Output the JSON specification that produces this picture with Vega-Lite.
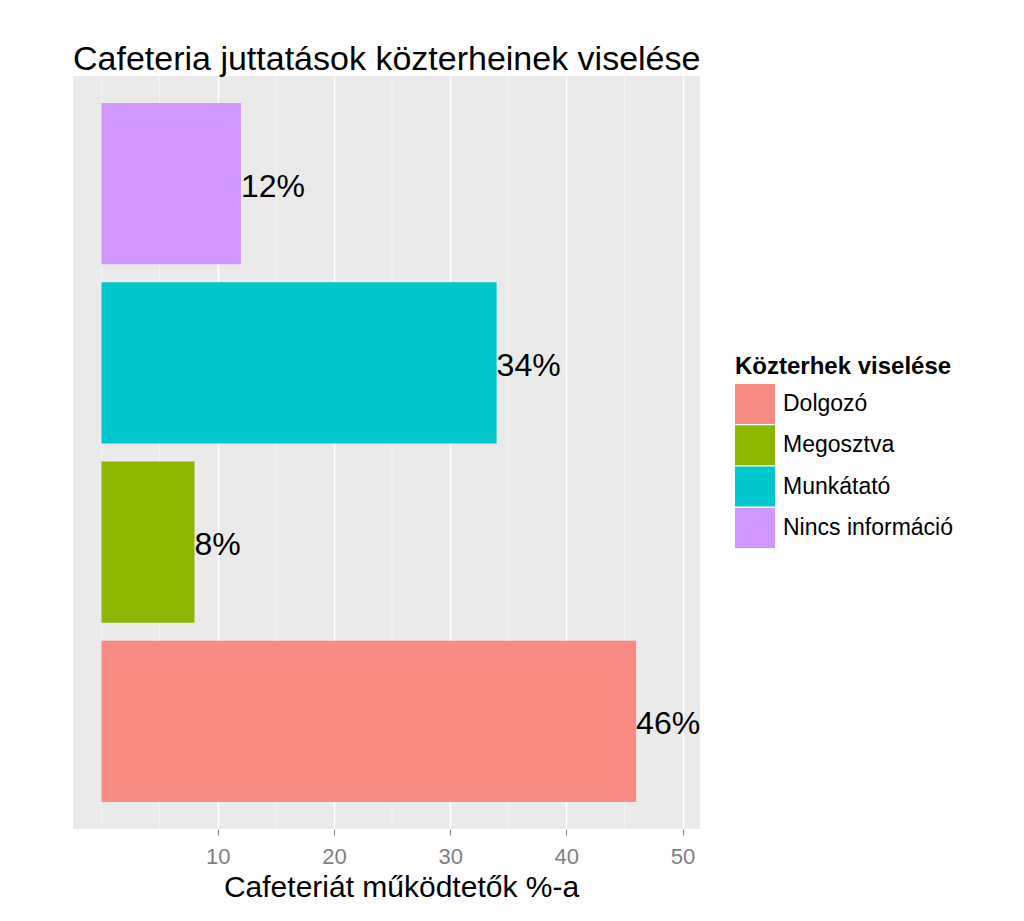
{
  "$schema": "https://vega.github.io/schema/vega-lite/v6.json",
  "width": 627,
  "height": 753,
  "autosize": {"type": "none"},
  "padding": {"left": 73, "top": 76, "right": 324, "bottom": 92},
  "background": "white",
  "title": {
    "text": "Cafeteria juttatások közterheinek viselése",
    "anchor": "start",
    "frame": "group",
    "font": "Liberation Sans",
    "fontSize": 34,
    "fontWeight": "normal",
    "color": "black",
    "offset": -1
  },
  "config": {
    "view": {"fill": "#EAEAEA", "stroke": null},
    "font": "Liberation Sans"
  },
  "datasets": {
    "bars": [
      {"cat": "Dolgozó", "value": 46, "label": "46%"},
      {"cat": "Megosztva", "value": 8, "label": "\u00a08%"},
      {"cat": "Munkátató", "value": 34, "label": "34%"},
      {"cat": "Nincs információ", "value": 12, "label": "12%"}
    ],
    "minor": [
      {"v": 0}, {"v": 5}, {"v": 15}, {"v": 25}, {"v": 35}, {"v": 45}
    ]
  },
  "resolve": {"axis": {"x": "shared"}},
  "layer": [
    {
      "data": {"name": "minor"},
      "mark": {"type": "rule", "color": "#F5F5F5", "strokeWidth": 0.8},
      "encoding": {
        "x": {"field": "v", "type": "quantitative", "scale": {"domain": [-2.45, 51.5], "nice": false, "zero": false}}
      }
    },
    {
      "data": {"name": "bars"},
      "mark": {"type": "bar"},
      "encoding": {
        "y": {
          "field": "cat", "type": "nominal",
          "sort": ["Nincs információ", "Munkátató", "Megosztva", "Dolgozó"],
          "scale": {"paddingInner": 0.1, "paddingOuter": 0.15},
          "axis": null
        },
        "x": {
          "field": "value", "type": "quantitative",
          "scale": {"domain": [-2.45, 51.5], "nice": false, "zero": false},
          "axis": {
            "values": [10, 20, 30, 40, 50],
            "title": "Cafeteriát működtetők %-a",
            "titleFontSize": 30,
            "titleFontWeight": "normal",
            "titleColor": "black",
            "titlePadding": 5,
            "titleX": 328,
            "labelFontSize": 22,
            "labelColor": "#7F7F7F",
            "labelPadding": 11,
            "tickColor": "#7F7F7F",
            "tickSize": 6,
            "domain": false,
            "grid": true,
            "gridColor": "white",
            "gridWidth": 1.5
          }
        },
        "color": {
          "field": "cat", "type": "nominal",
          "scale": {
            "domain": ["Dolgozó", "Megosztva", "Munkátató", "Nincs információ"],
            "range": ["#F98B82", "#8DB600", "#00C6CD", "#D195FF"]
          },
          "legend": {
            "title": "Közterhek viselése",
            "orient": "none",
            "legendX": 662,
            "legendY": 279,
            "titleFontSize": 24,
            "titleFontWeight": "bold",
            "titleColor": "black",
            "titleLimit": 400,
            "titlePadding": 5,
            "labelFontSize": 23,
            "labelColor": "black",
            "labelLimit": 400,
            "labelOffset": 8,
            "symbolType": "square",
            "symbolSize": 1600,
            "symbolStrokeWidth": 0,
            "symbolOpacity": 1,
            "rowPadding": 1.3
          }
        }
      }
    },
    {
      "data": {"name": "bars"},
      "mark": {"type": "text", "align": "left", "baseline": "middle", "fontSize": 32, "color": "black", "clip": true, "dy": 3},
      "encoding": {
        "y": {"field": "cat", "type": "nominal", "sort": ["Nincs információ", "Munkátató", "Megosztva", "Dolgozó"]},
        "x": {"field": "value", "type": "quantitative"},
        "text": {"field": "label"}
      }
    }
  ]
}
